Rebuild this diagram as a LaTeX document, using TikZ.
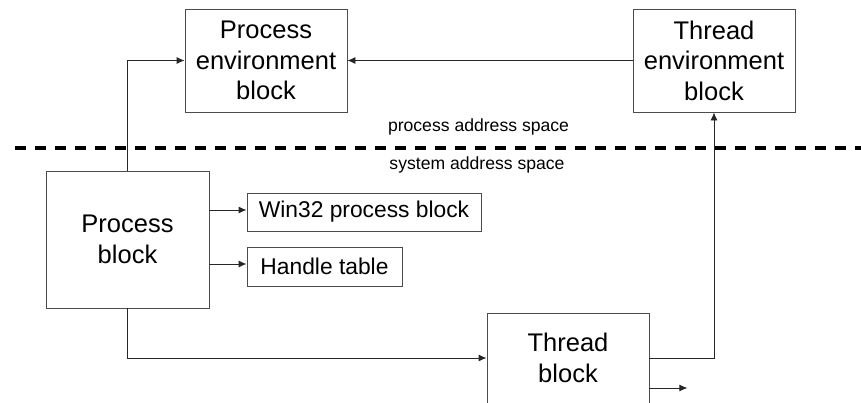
\documentclass[tikz,border=0pt]{standalone}
\usepackage{fontspec}
\setmainfont{Liberation Sans}
\usetikzlibrary{arrows.meta,calc}
\begin{document}
\begin{tikzpicture}[x=1pt,y=-1pt,
  bigbox/.style={draw=black!70,line width=0.9pt,inner sep=0pt,align=center,
    font=\fontsize{25.5}{30.5}\selectfont},
  smallbox/.style={draw=black!70,line width=0.9pt,inner sep=0pt,align=center,
    font=\fontsize{22.8}{27}\selectfont},
  lbl/.style={font=\fontsize{17.6}{20}\selectfont,inner sep=0pt},
  conn/.style={draw=black!85,line width=0.9pt},
  arr/.style={conn,-{Latex[length=8pt,width=7pt]}}]
\useasboundingbox (0,0) rectangle (861,402);
\clip (0,0) rectangle (861,402);
\node[bigbox,minimum width=162pt,minimum height=103pt] (PEB) at (266,60.5) {Process\\environment\\block};
\node[bigbox,minimum width=162pt,minimum height=103pt] (TEB) at (714,60.5) {Thread\\environment\\block};
\node[bigbox,minimum width=163pt,minimum height=137pt] (PB) at (127.5,239.5) {Process\\block};
\node[smallbox,minimum width=234pt,minimum height=38pt] (W32) at (364,212) {Win32 process block};
\node[smallbox,minimum width=155pt,minimum height=39pt] (HT) at (324.5,266.5) {Handle table};
\node[draw=black!70,line width=0.9pt,minimum width=162pt,minimum height=137pt,anchor=north] (TB) at (568,313) {};
\node[font=\fontsize{25.5}{30.5}\selectfont,align=center,inner sep=0pt] (TBt) at (568,358) {Thread\\block};
\node[lbl] (pas) at (478.5,127) {process address space};
\node[lbl] (sas) at (477,165) {system address space};
\coordinate (dl) at (15,148);
\coordinate (dr) at (861,148);
\draw[line width=3.2pt,dash pattern=on 11pt off 9pt] (dl) -- (dr);
\coordinate (TBin) at ($(TB.north west)+(0,45)$);
\coordinate (TBout) at ($(TB.north east)+(0,45)$);
\coordinate (TBout2) at ($(TB.north east)+(0,75)$);
\coordinate (TBend) at ($(TB.north east)+(38,75)$);
\draw[arr] (PB.north) |- (PEB.west);
\draw[arr] (TEB.west) -- (PEB.east);
\draw[arr] (PB.east |- 0,210) -- (W32.west |- 0,210);
\draw[arr] (PB.east |- 0,264) -- (HT.west |- 0,264);
\draw[arr] (PB.south) |- (TBin);
\draw[arr] (TBout) -| (TEB.south);
\draw[arr] (TBout2) -- (TBend);
\end{tikzpicture}
\end{document}
